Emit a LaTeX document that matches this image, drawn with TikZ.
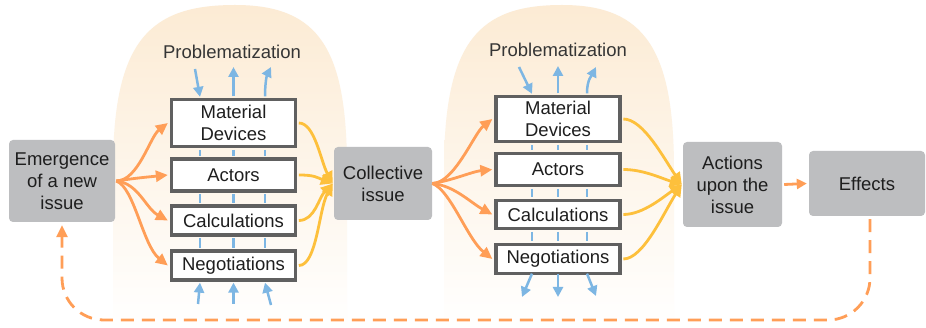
\documentclass[tikz,border=0pt]{standalone}
\usepackage{fontspec}
\setmainfont{Liberation Sans}
\usetikzlibrary{arrows.meta}
\definecolor{gbox}{HTML}{BDBEC0}
\definecolor{bord}{HTML}{606060}
\definecolor{orng}{HTML}{FF9E57}
\definecolor{yelw}{HTML}{FDC03C}
\definecolor{blu}{HTML}{7DB6E3}
\definecolor{peach}{HTML}{FCEBD4}
\definecolor{txt}{HTML}{1E1E1E}
\tikzset{
  graybox/.style={fill=gbox, rounded corners=4pt, align=center, inner sep=0pt, text=txt},
  wbox/.style={draw=bord, line width=3.3pt, fill=white, align=center, inner sep=0pt,
    minimum width=124pt, text=txt},
  oarr/.style={draw=orng, line width=2.8pt, -{Triangle[length=12pt,width=11pt]}},
  yarr/.style={draw=yelw, line width=2.8pt, -{Triangle[length=12pt,width=11pt]}},
  bline/.style={draw=blu, line width=2.5pt},
  barr/.style={draw=blu, line width=2.5pt, -{Triangle[length=10pt,width=10pt]}},
  dloop/.style={draw=orng, line width=2.8pt, dash pattern=on 13pt off 8pt, rounded corners=42pt},
  blob/.style={top color=peach, bottom color=white, draw=none},
  ptext/.style={text=txt!90, inner sep=0pt}
}
\begin{document}
\begin{tikzpicture}[x=1pt,y=-1pt,font=\fontsize{18.5}{22}\selectfont]
\useasboundingbox[fill=white] (0,0) rectangle (926,328);
% background blobs
\path[blob] (113,328) -- (113,170) .. controls (113,40) and (150,5) .. (235,5)
  .. controls (320,5) and (347,50) .. (347,170) -- (347,328) -- cycle;
\path[blob] (444,328) -- (444,170) .. controls (444,40) and (480,5) .. (562,5)
  .. controls (645,5) and (674,50) .. (674,170) -- (674,328) -- cycle;

% gray boxes
\node[graybox, minimum width=106pt, minimum height=82pt] (em) at (62,181) {Emergence\\of a new\\issue};
\node[graybox, minimum width=98pt, minimum height=73pt] (coll) at (383,183.5) {Collective\\issue};
\node[graybox, minimum width=99pt, minimum height=85pt] (act) at (732.5,184.5) {Actions\\upon the\\issue};
\node[graybox, minimum width=116pt, minimum height=65pt] (eff) at (867,183.5) {Effects};

% left column
\node[wbox, minimum height=47pt] (lmd) at (233.5,123) {Material\\Devices};
\node[wbox, minimum height=32pt] (lac) at (233.5,175) {Actors};
\node[wbox, minimum height=29pt] (lca) at (233.5,220.5) {Calculations};
\node[wbox, minimum height=29pt] (lne) at (233.5,265.5) {Negotiations};
% right column
\node[wbox, minimum height=45pt] (rmd) at (558,119) {Material\\Devices};
\node[wbox, minimum height=32pt] (rac) at (558,169.5) {Actors};
\node[wbox, minimum height=28pt] (rca) at (558,214.5) {Calculations};
\node[wbox, minimum height=29pt] (rne) at (558,259) {Negotiations};

\node[ptext] (lprob) at (232,52) {Problematization};
\node[ptext] (rprob) at (558,50) {Problematization};

% blue lines between boxes
\foreach \a/\b in {lmd/lac,lac/lca,lca/lne}{
  \foreach \s in {-33.5,0,31.5}{
    \draw[bline] ([xshift=\s pt, yshift=-1.7pt]\a.south) -- ([xshift=\s pt, yshift=1.7pt]\b.north);
  }}
\foreach \a/\b in {rmd/rac,rac/rca,rca/rne}{
  \foreach \s in {-26,0,29}{
    \draw[bline] ([xshift=\s pt, yshift=-1.7pt]\a.south) -- ([xshift=\s pt, yshift=1.7pt]\b.north);
  }}

% blue arrows left column
\coordinate (lt1) at (195,69);
\coordinate (lt2) at (233.5,67);
\coordinate (lt3) at (271,67);
\draw[barr] (lt1) -- ([xshift=-33.5pt, yshift=1pt]lmd.north);
\draw[barr] ([yshift=1.5pt]lmd.north) -- (lt2);
\draw[barr] ([xshift=31.5pt, yshift=1.5pt]lmd.north) .. controls +(0,-14) and +(-4,8) .. (lt3);
\coordinate (lb1) at (198,304);
\coordinate (lb2) at (233.5,304);
\coordinate (lb3) at (271,305);
\draw[barr] (lb1) -- ([xshift=-33.5pt, yshift=-1pt]lne.south);
\draw[barr] (lb2) -- ([yshift=-1pt]lne.south);
\draw[barr] (lb3) -- ([xshift=31.5pt, yshift=-1pt]lne.south);

% blue arrows right column
\coordinate (rt1) at (519,67);
\coordinate (rt2) at (558,66);
\coordinate (rt3) at (596,67);
\draw[barr] (rt1) -- ([xshift=-26pt, yshift=1pt]rmd.north);
\draw[barr] ([yshift=1.5pt]rmd.north) -- (rt2);
\draw[barr] ([xshift=29pt, yshift=1.5pt]rmd.north) .. controls +(0,-14) and +(-4,8) .. (rt3);
\coordinate (rb1) at (522,297);
\coordinate (rb2) at (558,297);
\coordinate (rb3) at (596,296);
\draw[barr] ([xshift=-26pt, yshift=1.5pt]rne.south) -- (rb1);
\draw[barr] ([yshift=1.5pt]rne.south) -- (rb2);
\draw[barr] ([xshift=29pt, yshift=1.5pt]rne.south) -- (rb3);

% orange fan left
\draw[oarr] ([xshift=1pt]em.east) .. controls +(22,0) and +(-18,14) .. ([xshift=-2pt]lmd.west);
\draw[oarr] ([xshift=1pt]em.east) .. controls +(20,-3) and +(-20,2) .. ([xshift=-2pt]lac.west);
\draw[oarr] ([xshift=1pt]em.east) .. controls +(22,2) and +(-22,-12) .. ([xshift=-2pt]lca.west);
\draw[oarr] ([xshift=1pt]em.east) .. controls +(18,6) and +(-25,-20) .. ([xshift=-2pt]lne.west);
% yellow left
\draw[yarr] ([xshift=1.7pt]lmd.east) .. controls +(16,0) and +(-12,-22) .. ([xshift=-1pt]coll.west);
\draw[yarr] ([xshift=1.7pt]lac.east) .. controls +(16,0) and +(-16,-6) .. ([xshift=-1pt]coll.west);
\draw[yarr] ([xshift=1.7pt]lca.east) .. controls +(16,0) and +(-14,14) .. ([xshift=-1pt]coll.west);
\draw[yarr] ([xshift=1.7pt]lne.east) .. controls +(18,0) and +(-14,26) .. ([xshift=-1pt]coll.west);

% orange fan right
\draw[oarr] (coll.east) .. controls +(22,0) and +(-18,14) .. ([xshift=-2pt]rmd.west);
\draw[oarr] (coll.east) .. controls +(20,-3) and +(-20,2) .. ([xshift=-2pt]rac.west);
\draw[oarr] (coll.east) .. controls +(22,2) and +(-22,-12) .. ([xshift=-2pt]rca.west);
\draw[oarr] (coll.east) .. controls +(18,6) and +(-25,-20) .. ([xshift=-2pt]rne.west);
% yellow right
\draw[yarr] ([xshift=1.7pt]rmd.east) .. controls +(20,0) and +(-18,-26) .. ([xshift=-1pt]act.west);
\draw[yarr] ([xshift=1.7pt]rac.east) .. controls +(20,0) and +(-20,-6) .. ([xshift=-1pt]act.west);
\draw[yarr] ([xshift=1.7pt]rca.east) .. controls +(20,0) and +(-18,12) .. ([xshift=-1pt]act.west);
\draw[yarr] ([xshift=1.7pt]rne.east) .. controls +(20,0) and +(-18,28) .. ([xshift=-1pt]act.west);

% actions -> effects
\draw[orng, line width=2.8pt, -{Triangle[length=10pt,width=10pt]}] ([xshift=2pt]act.east) -- ([xshift=-2pt]eff.west);

% dashed feedback loop
\coordinate (loop) at (466,320);
\draw[dloop, -{Triangle[length=12pt,width=11pt]}] ([xshift=3pt, yshift=-3pt]eff.south) |- (loop) -| ([yshift=-3pt]em.south);
\end{tikzpicture}
\end{document}
